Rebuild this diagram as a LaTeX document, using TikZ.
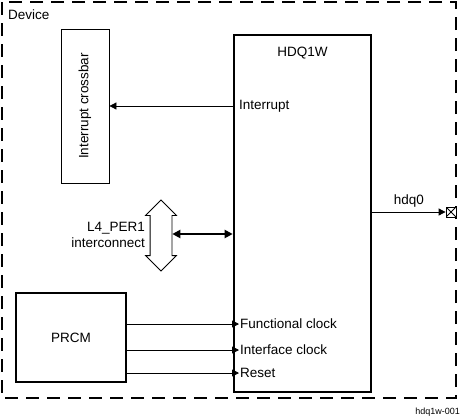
\documentclass[tikz,border=0pt]{standalone}
\usepackage{fontspec}
\setmainfont{Liberation Sans}
\usetikzlibrary{arrows.meta,shapes.arrows}
\begin{document}
\begin{tikzpicture}[x=1pt,y=-1pt,
    font=\fontsize{13.5}{16}\selectfont,
    blk/.style={draw,line width=0.8pt,inner sep=0pt},
    fatblk/.style={draw,line width=2.6pt,inner sep=0pt},
    lbl/.style={inner sep=1pt},
    sig/.style={line width=0.8pt,-{Triangle[length=7pt,width=7pt]}}]
  % frame
  \useasboundingbox (0,0) rectangle (465,418);
  \draw[line width=2.4pt,dash pattern=on 13pt off 8pt] (2,2) rectangle (456,398);
  \node[lbl,anchor=west] (dev) at (7,15) {Device};
  \node[lbl,anchor=east,font=\fontsize{9}{10}\selectfont] (fig) at (461,412) {hdq1w-001};

  % blocks
  \node[blk,minimum width=48pt,minimum height=154pt,
        label={[rotate=90]center:Interrupt crossbar}] (xbar) at (85,106) {};
  \node[fatblk,minimum width=137pt,minimum height=357pt] (hdq) at (302.5,213.5) {};
  \node[lbl,below=12pt] (title) at (hdq.north) {HDQ1W};
  \node[fatblk,minimum width=110pt,minimum height=89pt] (prcm) at (71,337.5) {PRCM};
  \node[draw,line width=0.8pt,double arrow,rotate=90,inner sep=0pt,
        text height=21pt,text depth=0pt,minimum height=71pt,
        double arrow head extend=4.5pt] (l4) at (161,235.5) {};
  \node[lbl,anchor=east,align=right] (l4lbl) at (146,235) {L4\_PER1\\interconnect};

  % pin
  \node[draw,fill=white,line width=0.8pt,minimum size=10pt,inner sep=0pt,
        path picture={\draw (path picture bounding box.north west) -- (path picture bounding box.south east)
                             (path picture bounding box.north east) -- (path picture bounding box.south west);}]
        (pin) at (451,212) {};

  % interrupt
  \node[lbl,anchor=west] (irq) at (238,106) {Interrupt};
  \draw[sig] (irq.west -| hdq.west) -- (irq.west -| xbar.east);

  % interconnect
  \draw[line width=2pt,{Triangle[length=8pt,width=8pt]}-{Triangle[length=8pt,width=8pt]}]
    (l4.south |- 0,234) -- (hdq.west |- 0,234);

  % hdq0
  \draw[sig] (hdq.east |- pin.west) -- node[lbl,above=3pt] (hdqlbl) {hdq0} (pin.west);

  % clocks and reset
  \foreach \n/\y/\t in {fclk/324/Functional clock,iclk/350/Interface clock,rst/373/Reset} {
    \node[lbl,anchor=west] (\n) at (239,\y) {\t};
    \draw[sig] (prcm.east |- \n.west) -- (\n.west);
  };
\end{tikzpicture}
\end{document}
